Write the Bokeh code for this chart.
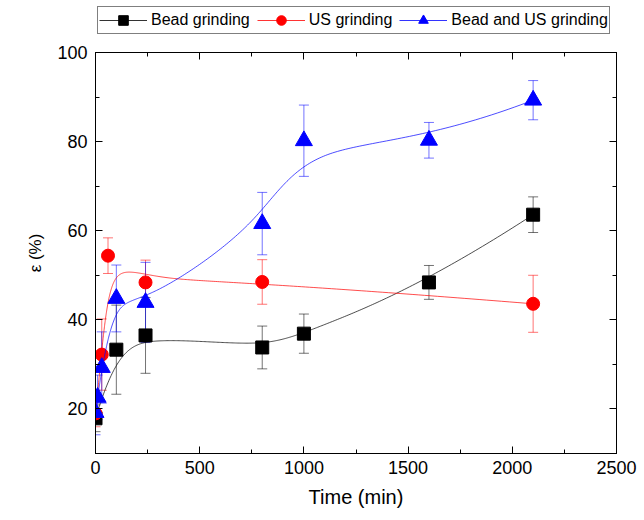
import numpy as np
from bokeh.plotting import figure
from bokeh.layouts import column
from bokeh.models import (ColumnDataSource, Whisker, TeeHead, Legend, LegendItem,
                          LinearAxis, SingleIntervalTicker, FixedTicker, Range1d)
from bokeh.embed import file_html
from bokeh.resources import INLINE

# ---- data ----
bead_t = [0, 100, 240, 800, 1000, 1600, 2100]
bead_e = [17.9, 33.3, 36.5, 33.8, 36.9, 48.4, 63.6]
bead_err = [3.0, 10.0, 8.5, 4.8, 4.4, 3.8, 4.0]

us_t = [0, 30, 60, 240, 800, 2100]
us_e = [19.0, 32.2, 54.4, 48.4, 48.5, 43.6]
us_err = [3.0, 8.0, 4.0, 5.0, 5.0, 6.4]

bus_t = [0, 10, 30, 100, 240, 800, 1000, 1600, 2100]
bus_e = [19.2, 22.6, 29.3, 44.8, 43.9, 61.6, 80.2, 80.3, 89.3]
bus_err = [5.0, 5.0, 8.0, 7.5, 9.0, 7.0, 8.0, 4.0, 4.4]

series_names = ["Bead grinding", "US grinding", "Bead and US grinding"]
x_lim = (0, 2500)
y_lim = (10, 100)
x_ticks_interval = 500
y_ticks_interval = 20

FONT = "Liberation Sans"


def bspline(xs, ys, n=300, k=3):
    """Clamped cubic B-spline using the data points as control points."""
    pts = np.column_stack([xs, ys]).astype(float)
    m = len(pts)
    k = min(k, m - 1)
    knots = np.concatenate([np.zeros(k), np.linspace(0, 1, m - k + 1), np.ones(k)])
    t = np.linspace(0, 1, n)
    t[-1] -= 1e-9

    def basis(i, p, tt):
        if p == 0:
            return np.where((knots[i] <= tt) & (tt < knots[i + 1]), 1.0, 0.0)
        out = np.zeros_like(tt)
        d1 = knots[i + p] - knots[i]
        d2 = knots[i + p + 1] - knots[i + 1]
        if d1 > 0:
            out += (tt - knots[i]) / d1 * basis(i, p - 1, tt)
        if d2 > 0:
            out += (knots[i + p + 1] - tt) / d2 * basis(i + 1, p - 1, tt)
        return out

    B = np.column_stack([basis(i, k, t) for i in range(m)])
    curve = B @ pts
    return curve[:, 0], curve[:, 1]


p = figure(frame_width=521, frame_height=401, output_backend="svg", toolbar_location=None,
           x_range=Range1d(*x_lim), y_range=Range1d(*y_lim),
           min_border_left=95, min_border_right=22, min_border_top=16, min_border_bottom=60,
           background_fill_color="white", border_fill_color="white")
p.xgrid.visible = False
p.ygrid.visible = False
p.outline_line_color = "black"
p.outline_line_width = 1

p.xaxis.ticker = SingleIntervalTicker(interval=x_ticks_interval, num_minor_ticks=2)
p.yaxis.ticker = SingleIntervalTicker(interval=y_ticks_interval, num_minor_ticks=2)


def style_axis(ax):
    ax.axis_line_color = "black"
    ax.major_tick_in = 7
    ax.major_tick_out = 0
    ax.minor_tick_in = 4
    ax.minor_tick_out = 0
    ax.major_tick_line_color = "black"
    ax.minor_tick_line_color = "black"
    ax.major_label_text_font = FONT
    ax.major_label_text_font_size = "18px"
    ax.major_label_text_color = "black"
    ax.axis_label_text_font = FONT
    ax.axis_label_text_font_style = "normal"
    ax.axis_label_text_color = "black"


style_axis(p.xaxis[0])
style_axis(p.yaxis[0])
p.xaxis.axis_label = "Time (min)"
p.xaxis.axis_label_text_font_size = "20px"
p.xaxis.major_label_standoff = 7
p.xaxis.axis_label_standoff = 9
p.yaxis.axis_label = "ε (%)"
p.yaxis.axis_label_text_font_size = "17px"
p.yaxis.major_label_standoff = 8
p.yaxis.axis_label_standoff = 9

# mirrored tick marks (no labels) on the top and right edges
x_major = list(np.arange(x_lim[0], x_lim[1] + 1, x_ticks_interval))
x_minor = list(np.arange(x_lim[0] + x_ticks_interval / 2, x_lim[1], x_ticks_interval))
y_major = list(np.arange(20, y_lim[1] + 1, y_ticks_interval))
y_minor = list(np.arange(y_lim[0], y_lim[1], y_ticks_interval))
for loc, majors, minors in (("above", x_major, x_minor), ("right", y_major, y_minor)):
    for ticks, length in ((majors, 7), (minors, 4)):
        ax = LinearAxis(ticker=FixedTicker(ticks=[], minor_ticks=ticks))
        ax.axis_line_color = "black"
        ax.major_tick_in = 0
        ax.major_tick_out = 0
        ax.minor_tick_in = length
        ax.minor_tick_out = 0
        ax.minor_tick_line_color = "black"
        ax.major_label_standoff = 0
        p.add_layout(ax, loc)

# separate strip that carries the legend above the plot
leg_fig = figure(width=636, height=36, output_backend="svg", toolbar_location=None,
                 x_range=Range1d(0, 1), y_range=Range1d(-2, -1),
                 min_border=0, min_border_left=0, min_border_right=0,
                 min_border_top=0, min_border_bottom=0,
                 background_fill_color="white", border_fill_color="white")
leg_fig.xaxis.visible = False
leg_fig.yaxis.visible = False
leg_fig.xgrid.visible = False
leg_fig.ygrid.visible = False
leg_fig.outline_line_color = None

series = [
    (bead_t, bead_e, bead_err, "black", "square", 13),
    (us_t, us_e, us_err, "red", "circle", 13),
    (bus_t, bus_e, bus_err, "blue", "triangle", 17),
]

items = []
for name, (t, e, err, col, marker, size) in zip(series_names, series):
    t = np.array(t, float)
    e = np.array(e, float)
    err = np.array(err, float)
    src = ColumnDataSource(dict(t=t, e=e, up=e + err, lo=e - err))
    cx, cy = bspline(t, e)
    p.line(cx, cy, line_color=col, line_width=1, line_alpha=0.7)
    w = Whisker(source=src, base="t", upper="up", lower="lo", line_color=col, line_alpha=0.55,
                line_width=1,
                upper_head=TeeHead(size=10, line_color=col, line_alpha=0.55, line_width=1),
                lower_head=TeeHead(size=10, line_color=col, line_alpha=0.55, line_width=1))
    p.add_layout(w)
    p.scatter("t", "e", source=src, marker=marker, size=size, fill_color=col, line_color=col)
    # legend proxies in the legend strip (their data lie outside its range, so only the
    # legend swatches are visible)
    l_line = leg_fig.line("t", "e", source=src, line_color=col, line_width=1, line_alpha=0.8)
    l_mark = leg_fig.scatter("t", "e", source=src, marker=marker, size=size,
                             fill_color=col, line_color=col)
    items.append(LegendItem(label=name, renderers=[l_line, l_mark]))

legend = Legend(items=items, orientation="horizontal", location=(2, 2),
                label_text_font=FONT, label_text_font_size="16px", label_text_color="black",
                glyph_width=48, glyph_height=24, label_standoff=4, spacing=7, padding=1,
                margin=0, border_line_color="black", border_line_width=1,
                background_fill_color="white", background_fill_alpha=1.0)
leg_fig.add_layout(legend, "center")

layout = column(leg_fig, p, spacing=0)
open("out.html", "w").write(file_html(layout, INLINE))
